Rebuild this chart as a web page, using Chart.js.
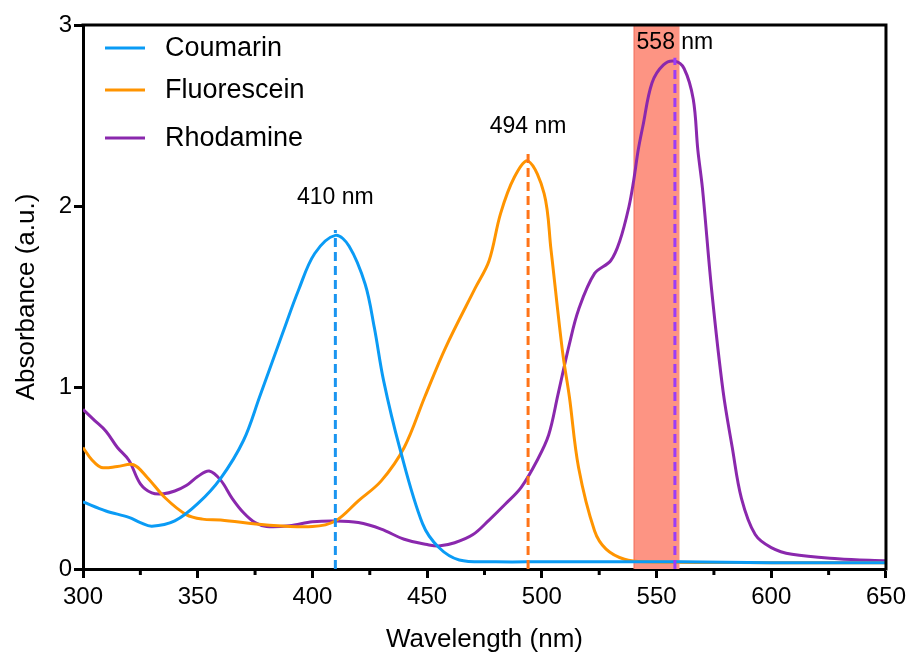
<!DOCTYPE html>
<html>
<head>
<meta charset="utf-8">
<script src="https://cdn.jsdelivr.net/npm/chart.js@4/dist/chart.umd.min.js"></script>
<style>
  body { margin: 0; background: #fff; }
  #wrap { width: 911px; height: 655px; }
</style>
</head>
<body>
<div id="wrap"><canvas id="absChart" width="911" height="655"></canvas></div>
<script>
// wavelength (nm) / absorbance
var coumarinNm  = [300, 310, 320, 325, 330, 340, 350, 360, 370, 377, 387, 394, 401, 410, 416, 423, 427, 431, 438, 448, 455, 464, 480, 500, 540, 560, 600, 650];
var coumarinAbs = [0.37, 0.32, 0.285, 0.256, 0.236, 0.265, 0.36, 0.50, 0.71, 0.95, 1.30, 1.54, 1.74, 1.84, 1.78, 1.57, 1.33, 1.04, 0.67, 0.25, 0.12, 0.05, 0.04, 0.04, 0.04, 0.04, 0.035, 0.035];

var fluoNm  = [300, 304, 308, 315, 322, 328, 336, 345, 352, 360, 380, 400, 410, 420, 430, 440, 449, 458, 471, 477, 482, 488, 494, 501, 504, 509, 512, 516, 523, 528, 536, 545, 600, 650];
var fluoAbs = [0.67, 0.60, 0.56, 0.565, 0.575, 0.505, 0.39, 0.30, 0.275, 0.27, 0.243, 0.234, 0.265, 0.376, 0.486, 0.67, 0.95, 1.22, 1.55, 1.70, 1.96, 2.16, 2.25, 2.07, 1.76, 1.2, 0.95, 0.56, 0.21, 0.11, 0.054, 0.04, 0.035, 0.035];

var rhodNm  = [300, 305, 310, 315, 320, 325, 330, 335, 340, 345, 350, 355, 360, 365, 370, 375, 380, 390, 400, 410, 420, 430, 440, 450, 455, 462, 470, 477, 484, 491, 498, 503, 507, 512, 516, 523, 530, 534, 538, 540, 542, 544, 548, 553, 558, 562, 566, 568, 570, 574, 579, 583, 587, 593, 600, 609, 629, 650];
var rhodAbs = [0.88, 0.82, 0.76, 0.67, 0.60, 0.47, 0.42, 0.415, 0.43, 0.46, 0.51, 0.54, 0.49, 0.39, 0.31, 0.256, 0.234, 0.238, 0.26, 0.265, 0.256, 0.22, 0.164, 0.135, 0.127, 0.145, 0.19, 0.27, 0.357, 0.45, 0.60, 0.74, 0.96, 1.24, 1.43, 1.63, 1.70, 1.81, 2.0, 2.14, 2.31, 2.44, 2.68, 2.78, 2.80, 2.76, 2.59, 2.31, 2.10, 1.54, 0.98, 0.67, 0.39, 0.19, 0.118, 0.081, 0.057, 0.045];

var seriesNames = ['Coumarin', 'Fluorescein', 'Rhodamine'];
var seriesColors = ['#0a9bf5', '#ff9400', '#8a28ad'];

// peak markers
var peakNm  = [410, 494, 558];
var peakAbs = [1.87, 2.31, 2.82];
var peakLabels = ['410 nm', '494 nm', '558 nm'];
var peakLabelAbs = [2.05, 2.44, 2.905];
var peakColors = ['#1a95f0', '#ff7418', '#9b3cf8'];

// highlighted band
var bandNm = [540, 560];

var xMajorTicks = [300, 350, 400, 450, 500, 550, 600, 650];
var xMinorTicks = [325, 375, 425, 475, 525, 575, 625];
var yTicks = [0, 1, 2, 3];

function toPoints(xs, ys) {
    var pts = [];
    for (var i = 0; i < xs.length; i++) pts.push({ x: xs[i], y: ys[i] });
    return pts;
}

var datasets = [];
var curves = [[coumarinNm, coumarinAbs], [fluoNm, fluoAbs], [rhodNm, rhodAbs]];
curves.forEach(function (c, i) {
    datasets.push({
        label: seriesNames[i],
        data: toPoints(c[0], c[1]),
        borderColor: seriesColors[i],
        borderWidth: 3,
        pointRadius: 0,
        tension: 0.35,
        fill: false,
        order: 2
    });
});
peakNm.forEach(function (nm, i) {
    datasets.push({
        label: peakLabels[i],
        data: [{ x: nm, y: 0 }, { x: nm, y: peakAbs[i] }],
        borderColor: peakColors[i],
        borderWidth: 3,
        borderDash: [9, 5],
        pointRadius: 0,
        fill: false,
        order: 1
    });
});

var fontFam = '"Liberation Sans", Arial, sans-serif';

// salmon band behind the curves
var bandPlugin = {
    id: 'band',
    beforeDatasetsDraw: function (chart) {
        var ctx = chart.ctx, a = chart.chartArea, xs = chart.scales.x;
        var x1 = xs.getPixelForValue(bandNm[0]);
        var x2 = xs.getPixelForValue(bandNm[1]);
        ctx.save();
        ctx.fillStyle = '#fd9483';
        ctx.fillRect(x1, a.top, x2 - x1, a.bottom - a.top);
        ctx.strokeStyle = 'rgba(235,90,70,0.6)';
        ctx.lineWidth = 1;
        ctx.beginPath();
        ctx.moveTo(x1 + 0.5, a.top);
        ctx.lineTo(x1 + 0.5, a.bottom);
        ctx.stroke();
        ctx.restore();
    }
};

var decoPlugin = {
    id: 'deco',
    afterDraw: function (chart) {
        var ctx = chart.ctx, a = chart.chartArea, xs = chart.scales.x, ys = chart.scales.y;
        ctx.save();
        // top + right frame
        ctx.strokeStyle = '#000';
        ctx.lineWidth = 3;
        ctx.beginPath();
        ctx.moveTo(a.left - 1.5, a.top);
        ctx.lineTo(a.right, a.top);
        ctx.lineTo(a.right, a.bottom + 1.5);
        ctx.stroke();
        // minor x ticks
        xMinorTicks.forEach(function (v) {
            var px = xs.getPixelForValue(v);
            ctx.beginPath();
            ctx.moveTo(px, a.bottom);
            ctx.lineTo(px, a.bottom + 6);
            ctx.stroke();
        });
        // peak labels
        ctx.fillStyle = '#000';
        ctx.font = '23px ' + fontFam;
        ctx.textAlign = 'center';
        ctx.textBaseline = 'middle';
        peakNm.forEach(function (nm, i) {
            ctx.fillText(peakLabels[i], xs.getPixelForValue(nm), ys.getPixelForValue(peakLabelAbs[i]));
        });
        // legend inside plot area
        ctx.font = '27px ' + fontFam;
        ctx.textAlign = 'left';
        var rows = [a.top + 23, a.top + 65, a.top + 113];
        seriesNames.forEach(function (name, i) {
            ctx.strokeStyle = seriesColors[i];
            ctx.lineWidth = 3;
            ctx.beginPath();
            ctx.moveTo(a.left + 22, rows[i]);
            ctx.lineTo(a.left + 62, rows[i]);
            ctx.stroke();
            ctx.fillText(name, a.left + 82, rows[i] + 1);
        });
        ctx.restore();
    }
};

var absChart = new Chart(document.getElementById('absChart'), {
    type: 'line',
    data: { datasets: datasets },
    plugins: [bandPlugin, decoPlugin],
    options: {
        responsive: false,
        animation: false,
        layout: { padding: { top: 25, right: 24, left: 0, bottom: 0 } },
        plugins: { legend: { display: false }, tooltip: { enabled: false } },
        scales: {
            x: {
                type: 'linear',
                min: 300,
                max: 650,
                afterBuildTicks: function (s) { s.ticks = xMajorTicks.map(function (v) { return { value: v }; }); },
                afterFit: function (s) { s.height = 86; },
                border: { color: '#000', width: 3 },
                grid: { drawOnChartArea: false, tickLength: 9, tickWidth: 3, tickColor: '#000' },
                ticks: { color: '#000', padding: 5, maxRotation: 0, font: { size: 24, family: fontFam } },
                title: { display: true, text: 'Wavelength (nm)', color: '#000', padding: { top: 0, bottom: 0 }, font: { size: 26, family: fontFam } }
            },
            y: {
                min: 0,
                max: 3,
                afterBuildTicks: function (s) { s.ticks = yTicks.map(function (v) { return { value: v }; }); },
                afterFit: function (s) { s.width = 83; },
                border: { color: '#000', width: 3 },
                grid: { drawOnChartArea: false, tickLength: 9, tickWidth: 3, tickColor: '#000' },
                ticks: { color: '#000', padding: 2, font: { size: 24, family: fontFam } },
                title: { display: true, text: 'Absorbance (a.u.)', color: '#000', padding: { top: 11, bottom: 0 }, font: { size: 26, family: fontFam } }
            }
        }
    }
});
</script>
</body>
</html>
